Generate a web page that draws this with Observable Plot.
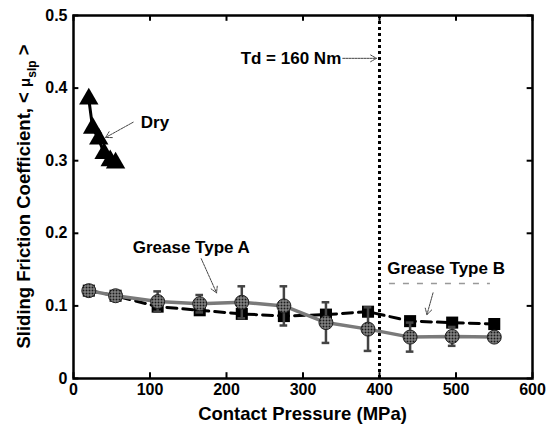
<!DOCTYPE html>
<html>
<head>
<meta charset="utf-8">
<script src="https://cdn.jsdelivr.net/npm/d3@7"></script>
<script src="https://cdn.jsdelivr.net/npm/@observablehq/plot@0.6"></script>
<style>
  body { margin: 0; background: #fff; }
  #chart svg { font-family: "Liberation Sans", Arial, sans-serif; font-weight: bold; }
</style>
</head>
<body>
<div id="chart"></div>
<script>
// ---- data ----
const dryP = [20, 25, 33, 40, 48, 55];
const dryMu = [0.385, 0.345, 0.33, 0.31, 0.30, 0.297];

const pressure = [20, 55, 110, 165, 220, 275, 330, 385, 440, 495, 550];
const greaseA = [0.121, 0.114, 0.106, 0.103, 0.105, 0.100, 0.077, 0.068, 0.057, 0.058, 0.057];
const greaseAErr = [0.004, 0.004, 0.014, 0.012, 0.022, 0.027, 0.028, 0.030, 0.020, 0.013, 0.005];
const greaseB = [0.121, 0.114, 0.099, 0.094, 0.089, 0.086, 0.088, 0.092, 0.079, 0.077, 0.075];

const xTicks = [0, 100, 200, 300, 400, 500, 600];
const yTicks = [0, 0.1, 0.2, 0.3, 0.4, 0.5];
const tdPressure = 400;

const dry = dryP.map((x, i) => ({x, y: dryMu[i]}));
const A = pressure.map((x, i) => ({x, y: greaseA[i], lo: greaseA[i] - greaseAErr[i], hi: greaseA[i] + greaseAErr[i]}));
const B = pressure.map((x, i) => ({x, y: greaseB[i]}));

const notesStart = [{x: 88, y: 0.353, text: "Dry"}];
const notesEnd = [{x: 350, y: 0.441, text: "Td = 160 Nm"}];
const notesMid = [
  {x: 154, y: 0.180, text: "Grease Type A"},
  {x: 487, y: 0.151, text: "Grease Type B"}
];
const arrows = [
  {x1: 78, y1: 0.353, x2: 42, y2: 0.332},
  {x1: 352, y1: 0.441, x2: 396, y2: 0.441},
  {x1: 167, y1: 0.165, x2: 187, y2: 0.118},
  {x1: 470, y1: 0.118, x2: 462, y2: 0.088}
];

const plot = Plot.plot({
  width: 549,
  height: 425,
  marginLeft: 73,
  marginRight: 17,
  marginTop: 15,
  marginBottom: 47,
  x: {domain: [0, 600], ticks: xTicks, label: null},
  y: {domain: [0, 0.5], ticks: yTicks, label: null},
  style: {fontSize: "16px", fontWeight: "bold", fontFamily: "Liberation Sans, Arial, sans-serif"},
  marks: [
    Plot.axisX(xTicks, {tickSize: 0, tickPadding: 5, fontSize: 16, fontWeight: "bold"}),
    Plot.axisY(yTicks, {tickSize: 0, tickPadding: 6, fontSize: 16, fontWeight: "bold", tickFormat: d => d === 0 ? "0" : d3.format(".1f")(d)}),
    // inward ticks
    Plot.ruleX(xTicks, {y1: 0, y2: 0.008, stroke: "black", strokeWidth: 2}),
    Plot.ruleX(xTicks, {y1: 0.492, y2: 0.5, stroke: "black", strokeWidth: 2}),
    Plot.ruleY(yTicks, {x1: 0, x2: 7, stroke: "black", strokeWidth: 2}),
    Plot.ruleY(yTicks, {x1: 593, x2: 600, stroke: "black", strokeWidth: 2}),
    // Td line
    Plot.ruleX([tdPressure], {stroke: "black", strokeWidth: 3, strokeDasharray: "3,3"}),
    // Grease B
    Plot.line(B, {x: "x", y: "y", stroke: "black", strokeWidth: 3, strokeDasharray: "10,6"}),
    Plot.dot(B, {x: "x", y: "y", symbol: "square", r: 6.8, fill: "black"}),
    // Grease A
    Plot.ruleX(A, {x: "x", y1: "lo", y2: "hi", stroke: "#444", strokeWidth: 2.5}),
    Plot.ruleY(A, {x1: d => d.x - 5, x2: d => d.x + 5, y: "hi", stroke: "#444", strokeWidth: 2.5}),
    Plot.ruleY(A, {x1: d => d.x - 5, x2: d => d.x + 5, y: "lo", stroke: "#444", strokeWidth: 2.5}),
    Plot.line(A, {x: "x", y: "y", stroke: "#7a7a7a", strokeWidth: 3.5}),
    Plot.dot(A, {x: "x", y: "y", r: 7, fill: "url(#hatch)", stroke: "#222", strokeWidth: 1}),
    // Dry
    Plot.line(dry, {x: "x", y: "y", stroke: "black", strokeWidth: 3}),
    Plot.dot(dry, {x: "x", y: "y", symbol: "triangle", r: 7.2, fill: "black"}),
    // legend fragment under Grease Type B
    Plot.ruleY([0.131], {x1: 413, x2: 545, stroke: "#999", strokeWidth: 1.5, strokeDasharray: "6,8"}),
    // annotations
    Plot.arrow(arrows, {x1: "x1", y1: "y1", x2: "x2", y2: "y2", stroke: "#444", strokeWidth: 1, headLength: 10, strokeDasharray: "2,1"}),
    Plot.text(notesStart, {x: "x", y: "y", text: "text", textAnchor: "start", fontSize: 17, fontWeight: "bold", fill: "black"}),
    Plot.text(notesEnd, {x: "x", y: "y", text: "text", textAnchor: "end", fontSize: 17, fontWeight: "bold", fill: "black"}),
    Plot.text(notesMid, {x: "x", y: "y", text: "text", textAnchor: "middle", fontSize: 17, fontWeight: "bold", fill: "black"}),
    Plot.frame({stroke: "black", strokeWidth: 2.5})
  ]
});

// hatch pattern for grease A circles
const svg = d3.select(plot);
const defs = svg.insert("defs", ":first-child");
const pat = defs.append("pattern").attr("id", "hatch").attr("patternUnits", "userSpaceOnUse")
  .attr("width", 3).attr("height", 3);
pat.append("rect").attr("width", 3).attr("height", 3).attr("fill", "#1a1a1a");
pat.append("rect").attr("x", 0).attr("y", 0).attr("width", 3).attr("height", 1).attr("fill", "#9a9a9a");
pat.append("rect").attr("x", 0).attr("y", 0).attr("width", 1).attr("height", 3).attr("fill", "#9a9a9a");

// axis titles
svg.append("text")
  .attr("x", (73 + 532) / 2).attr("y", 420)
  .attr("text-anchor", "middle").attr("font-size", 18.5).attr("font-weight", "bold").attr("fill", "black")
  .text("Contact Pressure (MPa)");
const yl = svg.append("text")
  .attr("transform", "translate(30," + (15 + 378) / 2 + ") rotate(-90)")
  .attr("text-anchor", "middle").attr("font-size", 18.5).attr("font-weight", "bold").attr("fill", "black");
yl.append("tspan").text("Sliding Friction Coefficient, < ");
yl.append("tspan").attr("font-size", 15).text("\u03bc");
yl.append("tspan").attr("font-size", 12).attr("dy", 6).text("slp");
yl.append("tspan").attr("dy", -6).text(" >");

document.getElementById("chart").appendChild(plot);
</script>
</body>
</html>
